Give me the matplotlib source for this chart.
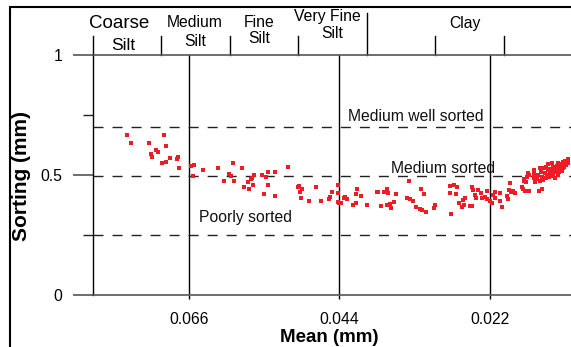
import matplotlib
matplotlib.use("Agg")
import matplotlib.pyplot as plt
import matplotlib.transforms as mtransforms
from matplotlib.patches import Rectangle

plt.rcParams['font.family'] = ['Liberation Sans', 'DejaVu Sans']

# ---------------- data ----------------
mean_mm = [
    0.07502, 0.07444, 0.07189, 0.06968, 0.06932, 0.07078, 0.07050, 0.07158, 0.07137, 0.06878,
    0.06929, 0.06990, 0.06764, 0.06768, 0.06742, 0.06574, 0.06517, 0.06388, 0.06534,
    0.06172, 0.05961, 0.05821, 0.06011, 0.05986, 0.06084, 0.05947, 0.05654, 0.05675, 0.05694,
    0.05733, 0.05792, 0.05719, 0.05664, 0.05537, 0.05472, 0.05448, 0.05343, 0.05148, 0.05438,
    0.05504, 0.05343, 0.04985, 0.04999, 0.04944, 0.04970, 0.04956, 0.04843, 0.04736,
    0.04666, 0.04505, 0.04415, 0.04419, 0.04144, 0.04159, 0.04078, 0.04317, 0.04337, 0.04287,
    0.04539, 0.04549, 0.04418, 0.04382, 0.04403, 0.04163, 0.04198, 0.03998, 0.03856, 0.03830,
    0.03698, 0.03742, 0.03688, 0.03571, 0.03406, 0.03369, 0.03329, 0.03596, 0.03655, 0.03698,
    0.03786, 0.03647, 0.03384, 0.03285, 0.03226, 0.03190, 0.03131, 0.03204, 0.03169,
    0.02997, 0.03016, 0.02785, 0.02782, 0.02775, 0.02719, 0.02685, 0.02701, 0.02646, 0.02612,
    0.02580, 0.02587, 0.02565, 0.02463, 0.02444, 0.02489, 0.02460, 0.02419, 0.02405, 0.02368,
    0.02329, 0.02310, 0.02276, 0.02247, 0.02237, 0.02193, 0.02163, 0.02156, 0.02127, 0.02130,
    0.02054, 0.02047, 0.02029,
    0.01908, 0.01922, 0.01896, 0.01859, 0.01835, 0.01944, 0.01930, 0.01732, 0.01715, 0.01700,
    0.01703, 0.01666, 0.01674, 0.01640, 0.01626, 0.01681, 0.01626, 0.01560, 0.01552, 0.01554,
    0.01542, 0.01481, 0.01437, 0.01469, 0.01444, 0.01465, 0.01421,
    0.01396, 0.01374, 0.01367, 0.01352, 0.01338, 0.01323, 0.01316, 0.01301, 0.01294, 0.01275,
    0.01272, 0.01257, 0.01242, 0.01225, 0.01221, 0.01213, 0.01199, 0.01191, 0.01177, 0.01169,
    0.01155, 0.01148, 0.01137, 0.01133, 0.01118, 0.01111, 0.01099, 0.01089, 0.01082, 0.01060,
    0.01067, 0.01411, 0.01381, 0.01345, 0.01294, 0.01250, 0.01206, 0.01455, 0.01498, 0.01520,
]
sorting_mm = [
    0.665, 0.632, 0.633, 0.668, 0.619, 0.603, 0.595, 0.588, 0.575, 0.570,
    0.556, 0.550, 0.574, 0.565, 0.530, 0.536, 0.543, 0.520, 0.497,
    0.528, 0.549, 0.531, 0.503, 0.497, 0.475, 0.475, 0.501, 0.489, 0.483,
    0.470, 0.450, 0.442, 0.458, 0.501, 0.493, 0.514, 0.513, 0.532, 0.458,
    0.420, 0.413, 0.454, 0.448, 0.440, 0.429, 0.406, 0.391, 0.448,
    0.392, 0.429, 0.458, 0.425, 0.443, 0.420, 0.413, 0.410, 0.403, 0.399,
    0.408, 0.399, 0.389, 0.385, 0.382, 0.382, 0.375, 0.374, 0.428, 0.428,
    0.440, 0.428, 0.424, 0.420, 0.406, 0.402, 0.393, 0.388, 0.380, 0.373,
    0.370, 0.361, 0.474, 0.365, 0.359, 0.353, 0.346, 0.440, 0.420,
    0.373, 0.363, 0.453, 0.424, 0.337, 0.458, 0.451, 0.422, 0.383, 0.365,
    0.373, 0.394, 0.403, 0.449, 0.438, 0.372, 0.372, 0.415, 0.406, 0.438,
    0.423, 0.406, 0.407, 0.399, 0.433, 0.392, 0.383, 0.415, 0.404, 0.430,
    0.427, 0.390, 0.367,
    0.465, 0.438, 0.430, 0.432, 0.427, 0.413, 0.402, 0.452, 0.440, 0.473,
    0.485, 0.490, 0.470, 0.510, 0.498, 0.432, 0.435, 0.521, 0.504, 0.489,
    0.472, 0.433, 0.443, 0.531, 0.490, 0.475, 0.481,
    0.510, 0.535, 0.500, 0.521, 0.492, 0.526, 0.508, 0.496, 0.517, 0.535,
    0.504, 0.525, 0.513, 0.538, 0.519, 0.500, 0.529, 0.513, 0.546, 0.523,
    0.535, 0.517, 0.555, 0.529, 0.546, 0.535, 0.560, 0.551, 0.542, 0.565,
    0.550, 0.529, 0.488, 0.544, 0.548, 0.488, 0.552, 0.513, 0.500, 0.485,
]

x_ticks = [0.066, 0.044, 0.022]
x_tick_labels = ['0.066', '0.044', '0.022']
y_ticks = [0, 0.5, 1]
y_tick_labels = ['0', '0.5', '1']
y_minor = [0.25, 0.75]

# sorting class boundaries and labels
sort_levels = [0.7, 0.495, 0.25]
sort_labels = ['Medium well sorted', 'Medium sorted', 'Poorly sorted']
sort_label_x = [0.0328, 0.0288, 0.0577]
sort_label_y = [0.727, 0.507, 0.303]

# grain-size classes (top header)
class_bounds = [0.08, 0.07, 0.06, 0.05, 0.04, 0.03, 0.02]
class_tall = [0.04]
class_names = [('Coarse', 'Silt'), ('Medium', 'Silt'), ('Fine', 'Silt'),
               ('Very Fine', 'Silt'), ('Clay', None)]
class_x = [0.0762, 0.0652, 0.0557, 0.0457, 0.0257]
class_x2 = [0.0756, 0.0650, 0.0557, 0.0450, None]

# ---------------- figure ----------------
W, H = 571, 347
fig = plt.figure(figsize=(W / 100, H / 100), dpi=100)
ax = fig.add_axes([93 / W, 1 - 295 / H, (W - 93) / W, 240 / H])

ax.set_xlim(0.08, 0.01016)
ax.set_ylim(0, 1)

ax.scatter(mean_mm, sorting_mm, s=8, marker='s', color='#ee1c24',
           linewidths=0, zorder=5)

# sorting class lines
for lv in sort_levels:
    ax.axhline(lv, color='#222222', lw=1.0, ls=(0, (7.2, 6.5)), zorder=2)
for t, xx, yy in zip(sort_labels, sort_label_x, sort_label_y):
    ax.text(xx, yy, t, ha='center', va='baseline', fontsize=11.3, color='#111111')

# axes styling
ax.spines['right'].set_visible(False)
ax.spines['left'].set_color('black')
ax.spines['left'].set_linewidth(1.0)
ax.spines['top'].set_color('#555555')
ax.spines['bottom'].set_color('#555555')
ax.spines['top'].set_linewidth(1.2)
ax.spines['bottom'].set_linewidth(1.2)

ax.set_xticks(x_ticks)
ax.set_xticklabels(x_tick_labels)
ax.set_yticks(y_ticks)
ax.set_yticklabels(y_tick_labels)
ax.set_yticks(y_minor, minor=True)
ax.tick_params(axis='y', which='major', length=14.4, width=1.2, color='#555555',
               pad=7.5, labelsize=11.3)
ax.tick_params(axis='y', which='minor', length=7.2, width=1.0, color='#222222')
ax.tick_params(axis='x', which='major', length=2.6, width=1.0, color='black',
               pad=9.5, labelsize=11.3)
ax.xaxis.grid(True, color='black', lw=1.0)
ax.set_axisbelow(True)

# header with grain-size classes
trans = mtransforms.blended_transform_factory(ax.transData, ax.transAxes)
for b in class_bounds:
    top = 1.175 if b in class_tall else 1.079
    ax.plot([b, b], [1.0, top], color='black', lw=1.0, transform=trans,
            clip_on=False)

header_y1 = [1.111, 1.118, 1.118, 1.142, 1.114]
header_y2 = [1.021, 1.039, 1.049, 1.070, None]
header_fs1 = [13.5, 11.3, 11.3, 11.3, 11.3]
header_fs2 = [12.5, 11.3, 11.3, 11.3, None]
for (n1, n2), x1, x2, y1, y2, f1, f2 in zip(class_names, class_x, class_x2,
                                             header_y1, header_y2, header_fs1, header_fs2):
    ax.text(x1, y1, n1, ha='center', va='baseline', fontsize=f1,
            transform=trans, clip_on=False)
    if n2:
        ax.text(x2, y2, n2, ha='center', va='baseline', fontsize=f2,
                transform=trans, clip_on=False)

# axis titles
fig.text(22 / W, 1 - 176 / H, 'Sorting (mm)', rotation=90, ha='center', va='center',
         fontsize=15, fontweight='bold')
fig.text(329 / W, 1 - 341.5 / H, 'Mean (mm)', ha='center', va='baseline',
         fontsize=13.5, fontweight='bold')

# outer frame (its right and bottom edges lie outside the picture)
fy0 = -0.2
fig.patches.append(Rectangle((9.5 / W, fy0), 1.2, (1 - 6.5 / H) - fy0,
                             transform=fig.transFigure, fill=False,
                             edgecolor='black', lw=1.5))

fig.savefig('out.png', dpi=100)
